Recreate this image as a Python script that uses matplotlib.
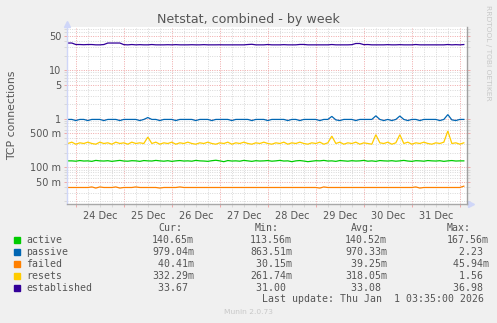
import numpy as np
import matplotlib
matplotlib.use('Agg')
import matplotlib.pyplot as plt
import matplotlib.dates as mdates
from matplotlib.ticker import FixedLocator, FuncFormatter, NullFormatter

# 2-hour samples starting Dec 23 20:00
start = np.datetime64('2025-12-23T20:00')
step_hours = 2

established = [36.3, 36.3, 33.8, 33.8, 33.5, 33.8, 33.8, 33.3, 33.3, 33.8,
               36.3, 36.3, 36.3, 36.3, 33.6, 33.3, 33.8, 33.3, 33.6, 33.3,
               33.3, 33.8, 33.3, 33.3, 33.3, 33.5, 33.3, 33.6, 33.3, 33.3,
               33.3, 33.5, 33.3, 33.3, 33.6, 33.3, 33.3, 33.3, 33.4, 33.3,
               33.3, 33.3, 33.3, 33.3, 33.3, 33.8, 34.2, 33.3, 33.3, 33.3,
               33.8, 33.3, 33.3, 33.3, 33.6, 33.3, 33.3, 33.3, 33.9, 33.9,
               33.3, 33.3, 33.3, 33.3, 33.3, 33.3, 33.8, 33.3, 33.3, 33.3,
               33.3, 33.6, 35.5, 35.5, 33.6, 33.8, 33.3, 33.3, 33.3, 33.3,
               33.6, 33.3, 33.3, 33.6, 33.3, 33.3, 33.3, 33.8, 33.3, 33.3,
               33.3, 33.3, 33.3, 33.3, 33.3, 33.8, 33.3, 33.6, 33.3, 33.8]

passive = [0.97, 0.97, 0.92, 0.97, 0.97, 0.92, 0.97, 0.97, 0.97, 0.92,
           0.97, 0.97, 0.97, 0.92, 0.97, 0.97, 0.97, 0.97, 0.92, 0.97,
           1.06, 0.97, 0.97, 0.92, 0.97, 0.97, 0.97, 0.92, 0.97, 0.97,
           0.97, 0.97, 0.92, 0.97, 0.97, 0.97, 0.92, 0.97, 0.97, 0.97,
           0.97, 0.92, 0.97, 0.97, 0.97, 0.97, 0.92, 0.97, 0.97, 0.97,
           0.92, 0.97, 0.97, 0.97, 0.97, 0.92, 0.97, 0.97, 0.92, 0.97,
           0.97, 0.97, 0.97, 0.92, 0.97, 0.97, 1.12, 0.95, 0.92, 0.97,
           0.97, 0.97, 0.92, 0.97, 0.97, 0.97, 0.97, 1.15, 0.97, 0.92,
           0.97, 0.92, 0.97, 1.14, 0.97, 0.92, 0.97, 0.97, 0.92, 0.97,
           0.97, 0.97, 0.97, 0.92, 0.97, 1.22, 0.95, 0.92, 0.97, 0.97]

resets = [0.31, 0.33, 0.30, 0.32, 0.31, 0.33, 0.31, 0.30, 0.33, 0.31,
          0.32, 0.30, 0.33, 0.31, 0.32, 0.30, 0.33, 0.31, 0.32, 0.31,
          0.42, 0.31, 0.33, 0.30, 0.32, 0.31, 0.33, 0.30, 0.32, 0.31,
          0.33, 0.31, 0.30, 0.32, 0.31, 0.33, 0.31, 0.30, 0.32, 0.31,
          0.33, 0.30, 0.32, 0.31, 0.33, 0.31, 0.30, 0.32, 0.31, 0.33,
          0.31, 0.30, 0.32, 0.31, 0.33, 0.30, 0.32, 0.31, 0.33, 0.31,
          0.30, 0.32, 0.31, 0.33, 0.30, 0.32, 0.44, 0.31, 0.33, 0.30,
          0.32, 0.31, 0.33, 0.30, 0.32, 0.31, 0.30, 0.47, 0.32, 0.31,
          0.33, 0.30, 0.32, 0.47, 0.31, 0.33, 0.30, 0.32, 0.31, 0.33,
          0.31, 0.30, 0.32, 0.31, 0.33, 0.56, 0.31, 0.32, 0.30, 0.32]

active = [0.136, 0.136, 0.134, 0.138, 0.135, 0.136, 0.133, 0.139, 0.136, 0.135,
          0.137, 0.133, 0.136, 0.139, 0.135, 0.134, 0.137, 0.136, 0.133, 0.138,
          0.136, 0.135, 0.139, 0.136, 0.134, 0.137, 0.133, 0.136, 0.138, 0.135,
          0.136, 0.134, 0.139, 0.136, 0.135, 0.133, 0.137, 0.140, 0.136, 0.131,
          0.138, 0.135, 0.136, 0.134, 0.139, 0.136, 0.133, 0.137, 0.135, 0.136,
          0.138, 0.134, 0.136, 0.139, 0.135, 0.136, 0.131, 0.136, 0.138, 0.135,
          0.131, 0.134, 0.137, 0.136, 0.139, 0.135, 0.136, 0.133, 0.138, 0.136,
          0.134, 0.137, 0.135, 0.136, 0.139, 0.134, 0.136, 0.133, 0.138, 0.136,
          0.135, 0.137, 0.134, 0.136, 0.139, 0.135, 0.133, 0.137, 0.136, 0.134,
          0.138, 0.136, 0.135, 0.137, 0.133, 0.136, 0.138, 0.135, 0.136, 0.136]

failed = [0.0385, 0.0385, 0.0385, 0.0385, 0.0385, 0.0385, 0.0395, 0.0375, 0.0395, 0.0385,
          0.0385, 0.0385, 0.0395, 0.0375, 0.0385, 0.0385, 0.0385, 0.0395, 0.0385, 0.0385,
          0.0385, 0.0385, 0.0385, 0.0375, 0.0385, 0.0385, 0.0385, 0.0385, 0.0395, 0.0385,
          0.0385, 0.0385, 0.0385, 0.0385, 0.0385, 0.0385, 0.0385, 0.0385, 0.0385, 0.0385,
          0.0385, 0.0385, 0.0385, 0.0385, 0.0385, 0.0385, 0.0385, 0.0385, 0.0385, 0.0385,
          0.0385, 0.0385, 0.0385, 0.0385, 0.0385, 0.0385, 0.0385, 0.0385, 0.0385, 0.0385,
          0.0385, 0.0385, 0.0385, 0.0375, 0.0395, 0.0385, 0.0385, 0.0385, 0.0385, 0.0385,
          0.0385, 0.0385, 0.0385, 0.0385, 0.0385, 0.0385, 0.0385, 0.0385, 0.0385, 0.0385,
          0.0385, 0.0385, 0.0385, 0.0385, 0.0385, 0.0385, 0.0385, 0.0395, 0.0375, 0.0385,
          0.0385, 0.0385, 0.0385, 0.0385, 0.0385, 0.0385, 0.0385, 0.0385, 0.0385, 0.0410]

series_names = ['active', 'passive', 'failed', 'resets', 'established']
series_colors = ['#00CC00', '#0066B3', '#FF8000', '#FFCC00', '#330099']
series_data = [active, passive, failed, resets, established]

cur = ['140.65m', '979.04m', ' 40.41m', '332.29m', ' 33.67 ']
vmin = ['113.56m', '863.51m', ' 30.15m', '261.74m', ' 31.00 ']
vavg = ['140.52m', '970.33m', ' 39.25m', '318.05m', ' 33.08 ']
vmax = ['167.56m', '  2.23 ', ' 45.94m', '  1.56 ', ' 36.98 ']

ytick_vals = [0.05, 0.1, 0.5, 1, 5, 10, 50]
ytick_labels = ['50 m', '100 m', '500 m', '1', '5', '10', '50']

FONT = '#555555'
AXIS = '#CFD6F8'
MGRID = '#F0A8A8'
GRID = '#D8D8D8'

t = start + np.arange(len(active)) * np.timedelta64(step_hours, 'h')
t = t.astype('datetime64[m]').astype(object)

W, H = 497, 323
fig = plt.figure(figsize=(W / 100, H / 100), dpi=100, facecolor='#F0F0F0')
L, R, T, B = 67, 467, 27, 204
ax = fig.add_axes([L / W, 1 - B / H, (R - L) / W, (B - T) / H])
ax.set_facecolor('white')

for d, c in zip(series_data, series_colors):
    ax.plot(t, d, color=c, lw=0.9, solid_joinstyle='miter')

ax.set_yscale('log')
ax.set_ylim(0.0176, 77.6)
ax.set_xlim(np.datetime64('2025-12-23T19:35').astype(object),
            np.datetime64('2026-01-01T03:35').astype(object))

# y grid: red at 1 and 5 per decade, grey at the rest
ymin_vals = [m * 10.0 ** e for e in (-2, -1, 0, 1) for m in (2, 3, 4, 6, 7, 8, 9)]
ax.yaxis.set_major_locator(FixedLocator(ytick_vals))
ax.yaxis.set_major_formatter(FuncFormatter(lambda v, p: ytick_labels[ytick_vals.index(v)] if v in ytick_vals else ''))
ax.yaxis.set_minor_locator(FixedLocator(ymin_vals))
ax.yaxis.set_minor_formatter(NullFormatter())

# x grid: red at midnight, grey every 6 hours, labels at noon
ax.xaxis.set_major_locator(mdates.DayLocator())
ax.xaxis.set_major_formatter(NullFormatter())
ax.xaxis.set_minor_locator(mdates.HourLocator(byhour=[0, 6, 12, 18]))
ax.xaxis.set_minor_formatter(FuncFormatter(
    lambda v, p: mdates.num2date(v).strftime('%d %b') if mdates.num2date(v).hour == 12 else ''))

dots = (0, (1, 1.4))
ax.grid(which='major', color=MGRID, lw=0.7, linestyle=dots)
ax.grid(which='minor', color=GRID, lw=0.7, linestyle=dots)
ax.set_axisbelow(True)

ax.tick_params(axis='both', which='both', labelsize=7, labelcolor=FONT, length=2, width=0.7)
ax.tick_params(axis='y', which='major', color=MGRID, right=True, pad=2)
ax.tick_params(axis='y', which='minor', color=GRID, right=True)
ax.tick_params(axis='x', which='major', color=MGRID)
ax.tick_params(axis='x', which='minor', color=GRID, pad=3)

ax.spines['top'].set_visible(False)
ax.spines['left'].set_color(AXIS)
ax.spines['bottom'].set_color('#A8A8A8')
ax.spines['right'].set_color('#A0A0A0')
for s in ax.spines.values():
    s.set_linewidth(1.0)
ax.plot([0], [1.015], marker='^', ms=4, color=AXIS, transform=ax.transAxes, clip_on=False)
ax.plot([1.01], [0], marker='>', ms=4, color=AXIS, transform=ax.transAxes, clip_on=False)

fig.text(248 / W, 1 - 19 / H, 'Netstat, combined - by week', ha='center', va='center',
         fontsize=9.1, color=FONT)
fig.text(12 / W, 1 - 115 / H, 'TCP connections', rotation=90, ha='center', va='center',
         fontsize=7.8, color=FONT)
fig.text(488 / W, 1 - 53 / H, 'RRDTOOL / TOBI OETIKER', rotation=270, ha='center', va='center',
         fontsize=5.4, color='#C8C8C8')

mono = 'DejaVu Sans Mono'
fs = 7.1
def row(y, s, x, color=FONT):
    fig.text(x / W, 1 - y / H, s, ha='left', va='center', family=mono, fontsize=fs, color=color)

row(227.7, 'Cur:', 158.3)
row(227.7, 'Min:', 254.7)
row(227.7, 'Avg:', 351)
row(227.7, 'Max:', 446.7)
for k, name in enumerate(series_names):
    y = 239.7 + 12 * k
    fig.patches.append(plt.Rectangle((14 / W, 1 - (y + 3) / H), 6 / W, 6 / H,
                                     transform=fig.transFigure, color=series_colors[k]))
    row(y, name, 26.3)
    row(y, cur[k], 152)
    row(y, vmin[k], 250)
    row(y, vavg[k], 345)
    row(y, vmax[k], 446.7)
row(299.3, 'Last update: Thu Jan  1 03:35:00 2026', 261.7)
fig.text(248 / W, 1 - 311.5 / H, 'Munin 2.0.73', ha='center', va='center', fontsize=5.4, color='#C8C8C8')

fig.savefig('out.png', dpi=100, facecolor=fig.get_facecolor())
